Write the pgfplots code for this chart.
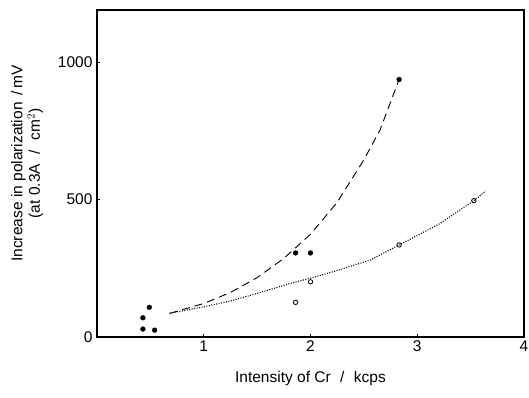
\documentclass[border=0pt]{standalone}
\usepackage{pgfplots}
\pgfplotsset{compat=1.18}
\usepackage{fontspec}
\setmainfont{Liberation Sans}
\begin{document}
\begin{tikzpicture}[x=1pt,y=1pt]
\useasboundingbox (0,0) rectangle (529,397);
\begin{axis}[
  at={(97pt,60pt)}, anchor=south west,
  scale only axis, width=427pt, height=327pt,
  xmin=0, xmax=4, ymin=0, ymax=1190,
  xtick={1,2,3,4}, ytick={0,500,1000},
  tick align=inside, major tick length=3pt,
  xtick pos=bottom, ytick pos=left,
  axis line style={line width=1.1pt},
  tick style={line width=0.6pt,black},
  /pgf/number format/assume math mode=true,
  /pgf/number format/1000 sep={},
  ticklabel style={font=\fontsize{15.5}{18}\selectfont},
  xticklabel style={yshift=0pt},
  yticklabel style={xshift=-1pt},
  label style={font=\fontsize{15.5}{18}\selectfont},
  xlabel={Intensity of Cr \,\,/\,\, kcps},
  xlabel style={yshift=-13pt},
  ylabel={\shortstack{Increase in polarization \,/\,mV\\[-1pt](at 0.3A \,\,/\,\, cm$^2$)}},
  ylabel style={yshift=8pt, xshift=10pt},
]
\addplot[black, line width=0.9pt, dash pattern=on 8pt off 5pt] coordinates {
(0.68,86) (1.0,122) (1.25,162) (1.5,216) (1.75,286) (2.0,374) (2.25,490) (2.5,645) (2.65,752) (2.83,937)};
\addplot[black, line width=1.1pt, dash pattern=on 1pt off 1.5pt] coordinates {
(0.68,86) (1.0,110) (1.25,131) (1.53,162) (1.81,195) (2.0,214) (2.25,242) (2.56,280) (2.83,335) (3.2,410) (3.53,496) (3.64,531)};
\addplot[only marks, mark=*, mark size=2.4pt, black] coordinates {
(0.43,70) (0.49,108) (0.43,29) (0.54,25) (1.86,306) (2.0,306) (2.83,937)};
\addplot[only marks, mark=o, mark size=2.2pt, black, mark options={line width=0.8pt}] coordinates {
(1.86,126) (2.0,201) (2.83,335) (3.53,496)};
\end{axis}
\end{tikzpicture}
\end{document}
